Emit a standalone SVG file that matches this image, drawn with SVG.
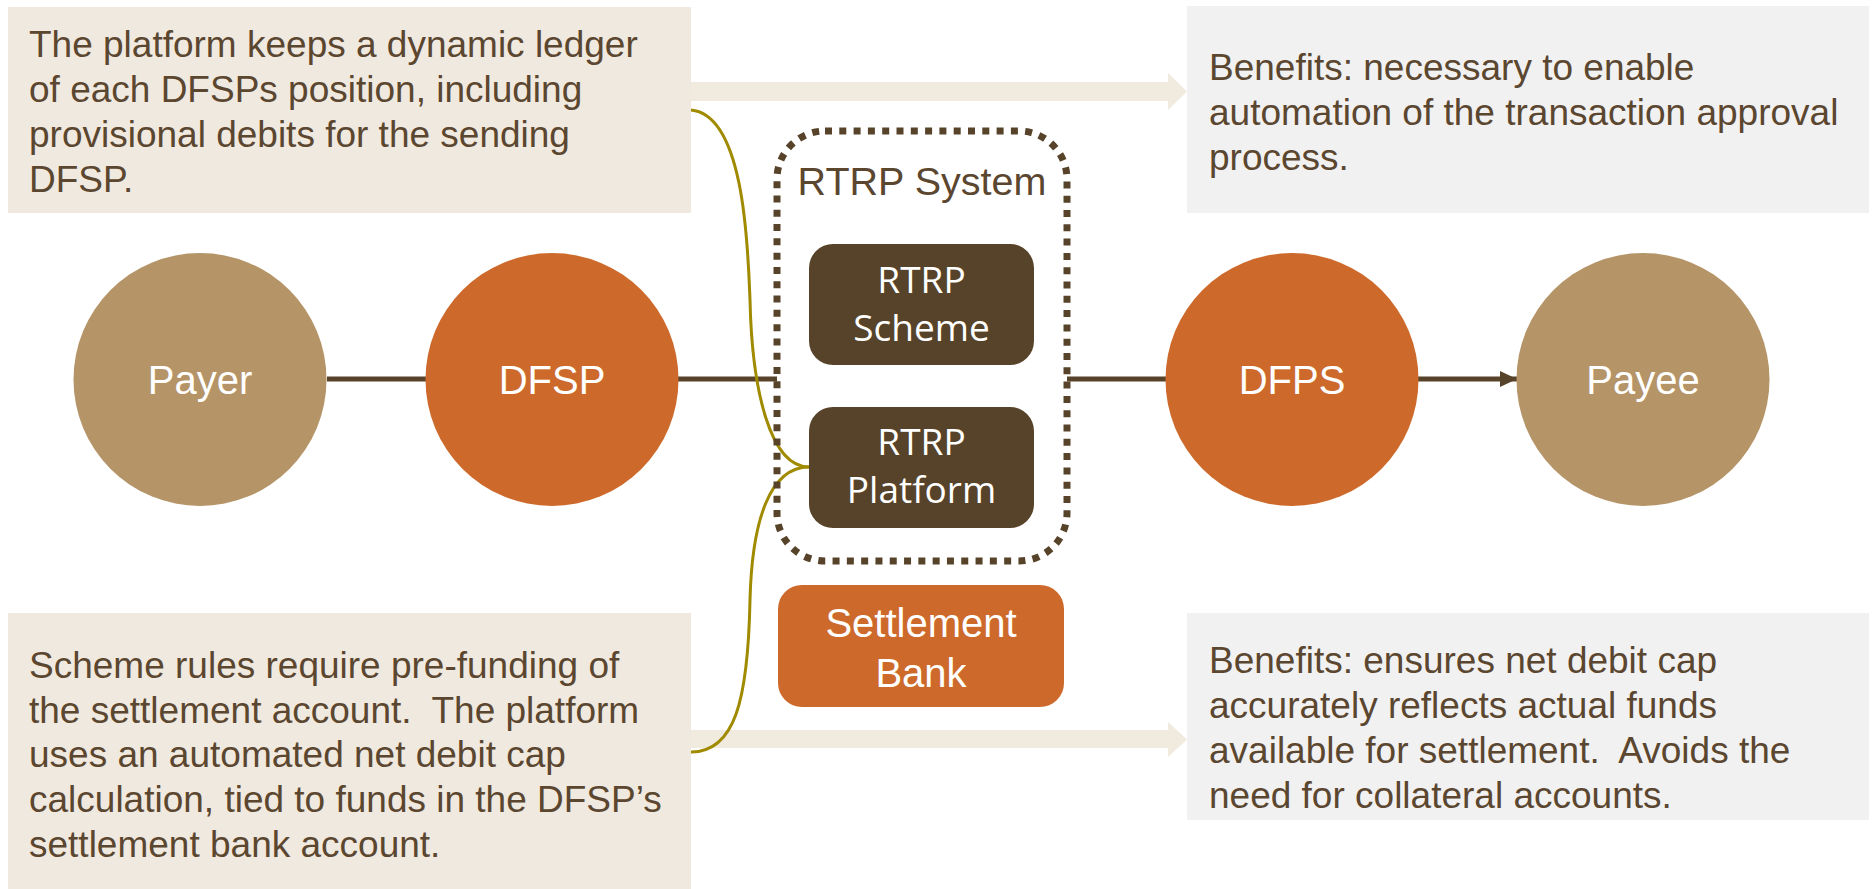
<svg xmlns="http://www.w3.org/2000/svg" width="1873" height="889" viewBox="0 0 1873 889">
  <style>
    .note { fill: #F0E9DF; }
    .benefit { fill: #F1F1F1; }
    .body { font-family: "Liberation Sans", Arial, sans-serif; font-size: 37px; fill: #5B4630; white-space: pre; }
    .label { font-family: "Liberation Sans", Arial, sans-serif; font-size: 40px; fill: #FFFFFF; text-anchor: middle; }
    .inner { font-family: "Open Sans", sans-serif; font-size: 37px; fill: #FFFFFF; text-anchor: middle; }
    .link { stroke: #574329; stroke-width: 5; fill: none; }
    .callout { stroke: #A08A00; stroke-width: 3; fill: none; }
    .band { fill: #F0EADF; }
  </style>
  <defs>
    <marker id="arrow" viewBox="0 0 17 16" refX="17" refY="8" markerWidth="17" markerHeight="16" markerUnits="userSpaceOnUse" orient="auto">
      <path d="M0,0 L17,8 L0,16 Z" fill="#574329"/>
    </marker>
  </defs>

  <rect width="1873" height="889" fill="#FFFFFF"/>

  <!-- wide pale arrows from notes to benefits -->
  <g id="bands">
    <path class="band" d="M691,82 H1168 V73 L1187,91.5 L1168,110 V101 H691 Z"/>
    <path class="band" d="M691,730 H1168 V722 L1187,739.5 L1168,757 V748 H691 Z"/>
  </g>

  <!-- notes -->
  <g id="note-ledger">
    <rect class="note" x="8" y="7" width="683" height="206"/>
    <text class="body" x="29" y="57">The platform keeps a dynamic ledger</text>
    <text class="body" x="29" y="102">of each DFSPs position, including</text>
    <text class="body" x="29" y="147">provisional debits for the sending</text>
    <text class="body" x="29" y="192">DFSP.</text>
  </g>
  <g id="note-prefunding">
    <rect class="note" x="8" y="613" width="683" height="276"/>
    <text class="body" x="29" y="678">Scheme rules require pre-funding of</text>
    <text class="body" x="29" y="723">the settlement account.  The platform</text>
    <text class="body" x="29" y="767">uses an automated net debit cap</text>
    <text class="body" x="29" y="812">calculation, tied to funds in the DFSP’s</text>
    <text class="body" x="29" y="857">settlement bank account.</text>
  </g>
  <g id="benefit-automation">
    <rect class="benefit" x="1187" y="6" width="682" height="207"/>
    <text class="body" x="1209" y="80">Benefits: necessary to enable</text>
    <text class="body" x="1209" y="125">automation of the transaction approval</text>
    <text class="body" x="1209" y="170">process.</text>
  </g>
  <g id="benefit-cap">
    <rect class="benefit" x="1187" y="613" width="682" height="207"/>
    <text class="body" x="1209" y="673">Benefits: ensures net debit cap</text>
    <text class="body" x="1209" y="718">accurately reflects actual funds</text>
    <text class="body" x="1209" y="763">available for settlement.  Avoids the</text>
    <text class="body" x="1209" y="808">need for collateral accounts.</text>
  </g>

  <!-- connectors -->
  <g id="connectors">
    <line class="link" x1="327" y1="379" x2="426" y2="379"/>
    <line class="link" x1="678" y1="379" x2="777" y2="379"/>
    <line class="link" x1="1067" y1="379" x2="1166" y2="379"/>
    <line class="link" x1="1418" y1="379" x2="1517" y2="379" marker-end="url(#arrow)"/>
    <path class="callout" d="M691,110 C745,115 748,250 750,300 C752,390 770,467 809,467"/>
    <path class="callout" d="M809,467 C770,467 752,520 750,600 C748,700 735,752 691,752"/>
  </g>

  <!-- participants -->
  <g id="payer">
    <circle cx="200" cy="379.5" r="126.5" fill="#B59467"/>
    <text class="label" x="200" y="394">Payer</text>
  </g>
  <g id="dfsp">
    <circle cx="552" cy="379.5" r="126.5" fill="#CD6A2B"/>
    <text class="label" x="552" y="394">DFSP</text>
  </g>
  <g id="dfps">
    <circle cx="1292" cy="379.5" r="126.5" fill="#CD6A2B"/>
    <text class="label" x="1292" y="394">DFPS</text>
  </g>
  <g id="payee">
    <circle cx="1643" cy="379.5" r="126.5" fill="#B59467"/>
    <text class="label" x="1643" y="394">Payee</text>
  </g>

  <!-- RTRP system boundary and its parts -->
  <g id="rtrp-system">
    <rect x="777" y="131" width="290" height="430" rx="48" ry="48" fill="none" stroke="#574329" stroke-width="7" stroke-dasharray="7 7.3"/>
    <text x="922" y="195" font-family="'Liberation Sans', Arial, sans-serif" font-size="39.5" fill="#5B4630" text-anchor="middle">RTRP System</text>
  </g>
  <g id="rtrp-scheme">
    <rect x="809" y="244" width="225" height="121" rx="24" ry="24" fill="#574329"/>
    <text class="inner" x="921.5" y="293">RTRP</text>
    <text class="inner" x="921.5" y="341">Scheme</text>
  </g>
  <g id="rtrp-platform">
    <rect x="809" y="407" width="225" height="121" rx="24" ry="24" fill="#574329"/>
    <text class="inner" x="921.5" y="455">RTRP</text>
    <text class="inner" x="921.5" y="503">Platform</text>
  </g>
  <g id="settlement-bank">
    <rect x="778" y="585" width="286" height="122" rx="24" ry="24" fill="#CD6A2B"/>
    <text class="label" x="921" y="637">Settlement</text>
    <text class="label" x="921" y="687">Bank</text>
  </g>
</svg>
